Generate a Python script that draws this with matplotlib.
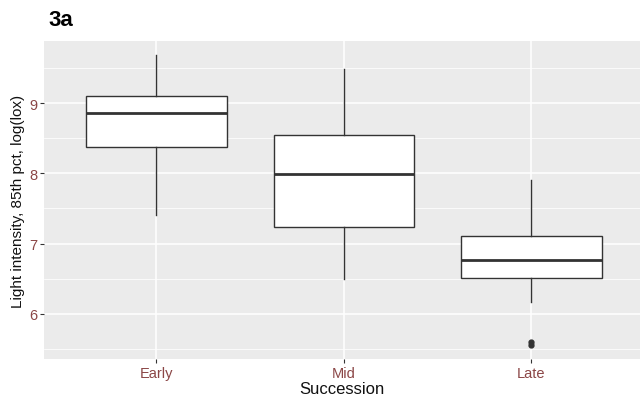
import matplotlib.pyplot as plt

groups = ["Early", "Mid", "Late"]
whislo = [7.40, 6.50, 6.17]
q1 = [8.37, 7.23, 6.51]
med = [8.86, 7.99, 6.77]
q3 = [9.10, 8.54, 7.11]
whishi = [9.68, 9.49, 7.91]
fliers = [[], [], [5.59, 5.56]]

plt.rcParams['font.family'] = ['Liberation Sans', 'DejaVu Sans']

fig = plt.figure(figsize=(6.4, 4.06), dpi=100)
ax = fig.add_axes([44 / 640, 46 / 406, 596 / 640, 318 / 406])
ax.set_facecolor('#ebebeb')

stats = []
for i, g in enumerate(groups):
    stats.append(dict(label=g, whislo=whislo[i], q1=q1[i], med=med[i],
                      q3=q3[i], whishi=whishi[i], fliers=fliers[i]))

pos = [1, 2, 3]
ax.bxp(stats, positions=pos, widths=0.75, patch_artist=True, showcaps=False,
       boxprops=dict(facecolor='white', edgecolor='#333333', linewidth=1.0),
       medianprops=dict(color='#333333', linewidth=2.0),
       whiskerprops=dict(color='#333333', linewidth=1.0),
       flierprops=dict(marker='o', markerfacecolor='#333333', markeredgecolor='#333333',
                       markersize=3.5))

ax.set_xlim(0.4, 3.579)
lo = min(min(whislo), min(min(f) for f in fliers if f))
hi = max(whishi)
pad = (hi - lo) * 0.05
ax.set_ylim(lo - pad, hi + pad)

ax.set_yticks([6, 7, 8, 9])
ax.set_yticks([5.5, 6.5, 7.5, 8.5, 9.5], minor=True)
ax.set_xticks(pos)
ax.set_xticklabels(groups)
ax.grid(True, which='major', color='white', linewidth=1.1)
ax.grid(True, which='minor', axis='y', color='white', linewidth=0.55)
ax.set_axisbelow(True)
for s in ax.spines.values():
    s.set_visible(False)
ax.tick_params(which='major', length=3, color='#333333', labelcolor='#8b4646',
               labelsize=10.5, pad=2)
ax.tick_params(which='minor', length=0)

ax.set_xlabel("Succession", fontsize=12, color='#111111', labelpad=1)
ax.set_ylabel("Light intensity, 85th pct, log(lox)", fontsize=11, color='#111111', labelpad=3)

fig.text(48 / 640, 1 - 20 / 406, "3a", fontsize=16, fontweight='bold', va='center',
         ha='left')

fig.savefig("out.png", dpi=100)
